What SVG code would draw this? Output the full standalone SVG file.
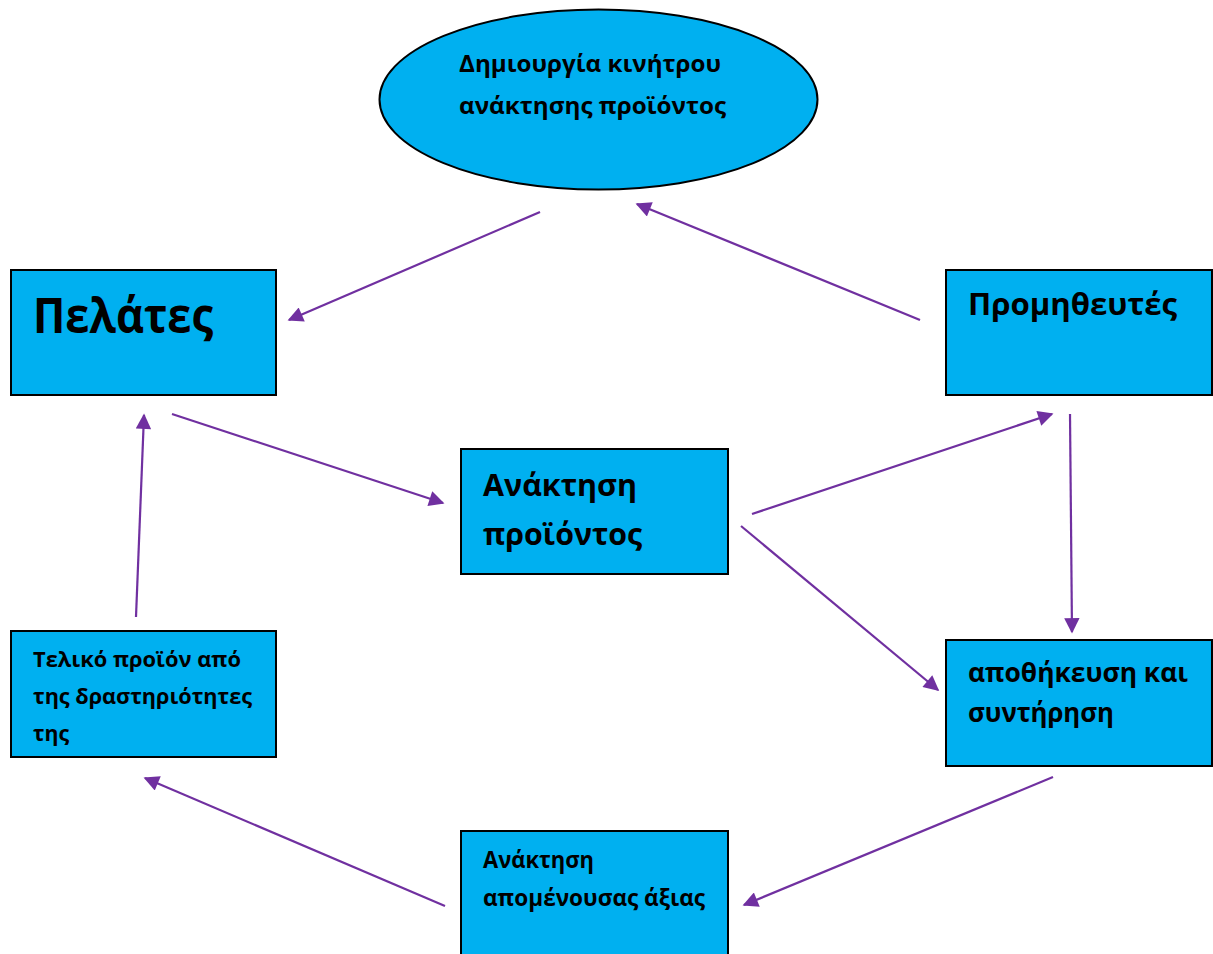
<svg xmlns="http://www.w3.org/2000/svg" width="1213" height="954" viewBox="0 0 1213 954">
<defs>
<style>
.box{fill:#00B0F0;stroke:#000;stroke-width:2}
.t{font-family:"Open Sans","Noto Sans","Liberation Sans",sans-serif;font-weight:bold;fill:#000}
.c{stroke:#7030A0;stroke-width:2.2;fill:none;marker-end:url(#ah)}
</style>
<marker id="ah" viewBox="0 0 10 10" refX="9" refY="5" markerWidth="8" markerHeight="7" markerUnits="strokeWidth" orient="auto">
<path d="M0,0 L10,5 L0,10 z" fill="#7030A0"/>
</marker>
</defs>
<rect width="1213" height="954" fill="#fff"/>
<g id="node-motive">
<ellipse class="box" cx="598.5" cy="99.5" rx="219" ry="90"/>
<text class="t" x="459" y="72" font-size="24" textLength="262" lengthAdjust="spacingAndGlyphs">Δημιουργία κινήτρου</text>
<text class="t" x="459" y="114" font-size="24" textLength="267" lengthAdjust="spacingAndGlyphs">ανάκτησης προϊόντος</text>
</g>
<g id="node-customers">
<rect class="box" x="11" y="270" width="265" height="125"/>
<text class="t" x="33" y="333" font-size="49" textLength="180" lengthAdjust="spacingAndGlyphs">Πελάτες</text>
</g>
<g id="node-suppliers">
<rect class="box" x="946" y="270" width="266" height="125"/>
<text class="t" x="968" y="315" font-size="31" textLength="209" lengthAdjust="spacingAndGlyphs">Προμηθευτές</text>
</g>
<g id="node-recovery">
<rect class="box" x="461" y="449" width="267" height="125"/>
<text class="t" x="483" y="496" font-size="31" textLength="154" lengthAdjust="spacingAndGlyphs">Ανάκτηση</text>
<text class="t" x="483" y="545" font-size="31" textLength="159" lengthAdjust="spacingAndGlyphs">προϊόντος</text>
</g>
<g id="node-final">
<rect class="box" x="11" y="631" width="265" height="126"/>
<text class="t" x="33" y="667" font-size="22" textLength="208" lengthAdjust="spacingAndGlyphs">Τελικό προϊόν από</text>
<text class="t" x="33" y="704" font-size="22" textLength="219" lengthAdjust="spacingAndGlyphs">της δραστηριότητες</text>
<text class="t" x="33" y="741" font-size="22" textLength="36" lengthAdjust="spacingAndGlyphs">της</text>
</g>
<g id="node-storage">
<rect class="box" x="946" y="640" width="266" height="126"/>
<text class="t" x="968" y="682" font-size="27" textLength="220" lengthAdjust="spacingAndGlyphs">αποθήκευση και</text>
<text class="t" x="968" y="722" font-size="27" textLength="146" lengthAdjust="spacingAndGlyphs">συντήρηση</text>
</g>
<g id="node-residual">
<rect class="box" x="461" y="831" width="267" height="130"/>
<text class="t" x="483" y="868" font-size="23" textLength="111" lengthAdjust="spacingAndGlyphs">Ανάκτηση</text>
<text class="t" x="483" y="906" font-size="23" textLength="222" lengthAdjust="spacingAndGlyphs">απομένουσας άξιας</text>
</g>
<g id="connectors">
<line class="c" x1="540" y1="212" x2="289" y2="320"/>
<line class="c" x1="920" y1="320" x2="637" y2="204"/>
<line class="c" x1="172" y1="414" x2="443" y2="503"/>
<line class="c" x1="136" y1="617" x2="144" y2="415"/>
<line class="c" x1="752" y1="514" x2="1052" y2="414"/>
<line class="c" x1="1070" y1="414" x2="1072" y2="632"/>
<line class="c" x1="741" y1="526" x2="938" y2="690"/>
<line class="c" x1="1053" y1="777" x2="744" y2="905"/>
<line class="c" x1="445" y1="906" x2="145" y2="778"/>
</g>
</svg>
